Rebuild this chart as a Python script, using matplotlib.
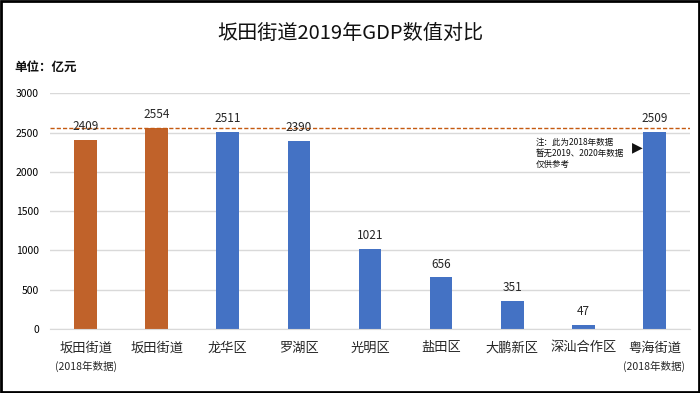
import matplotlib
matplotlib.use("Agg")
import matplotlib.pyplot as plt
from matplotlib.patches import Rectangle

plt.rcParams['font.family'] = ['Noto Sans CJK SC', 'DejaVu Sans']

categories = ["坂田街道", "坂田街道", "龙华区", "罗湖区", "光明区", "盐田区", "大鹏新区", "深汕合作区", "粤海街道"]
sublabels = ["(2018年数据)", "", "", "", "", "", "", "", "(2018年数据)"]
values = [2409, 2554, 2511, 2390, 1021, 656, 351, 47, 2509]
colors = ["#C0622A", "#C0622A", "#4472C4", "#4472C4", "#4472C4", "#4472C4", "#4472C4", "#4472C4", "#4472C4"]
yticks = [0, 500, 1000, 1500, 2000, 2500, 3000]
ref_value = 2554
title = "坂田街道2019年GDP数值对比"
unit = "单位：亿元"
note = "注：此为2018年数据\n暂无2019、2020年数据\n仅供参考"

fig = plt.figure(figsize=(7, 3.93), dpi=100)
ax = fig.add_axes([50/700, 1-329/393, 640/700, (329-93.3)/393])

x = list(range(len(categories)))
ax.bar(x, values, width=0.32, color=colors, zorder=3)
ax.set_xlim(-0.5, len(categories)-0.5)
ax.set_ylim(0, 3000)
ax.set_yticks(yticks)
ax.set_yticklabels([str(t) for t in yticks], fontsize=7.5)
ax.yaxis.grid(True, color="#D9D9D9", linewidth=1, zorder=0)
ax.tick_params(axis='y', length=0, pad=8)
ax.tick_params(axis='x', length=0)
for s in ['top', 'right', 'left']:
    ax.spines[s].set_visible(False)
ax.spines['bottom'].set_color("#D9D9D9")
ax.spines['bottom'].set_zorder(4)

ax.axhline(ref_value, color="#C55A11", linestyle=(0, (3, 1.5)), linewidth=1, zorder=4)

for xi, v in zip(x, values):
    ax.annotate(str(v), (xi, v), xytext=(0, 5), textcoords="offset points",
                ha='center', va='bottom', fontsize=8.5, color="#262626", zorder=5)

ax.set_xticks(x)
ax.set_xticklabels([])
for xi, c, s in zip(x, categories, sublabels):
    ax.annotate(c, (xi, 0), xytext=(0, -9), textcoords="offset points",
                ha='center', va='top', fontsize=9.5, color="#262626", annotation_clip=False)
    if s:
        ax.annotate(s, (xi, 0), xytext=(0, -23), textcoords="offset points",
                    ha='center', va='top', fontsize=7.6, color="#262626", annotation_clip=False)

fig.text(0.5, 1-33/393, title, ha='center', va='center', fontsize=14.5, color="#111111")
fig.text(14/700, 1-67/393, unit, ha='left', va='center', fontsize=9, fontweight='bold', color="#111111")
fig.text(536/700, 1-153/393, note, ha='left', va='center', fontsize=6.1, linespacing=1.3, color="#111111")
fig.text(637/700, 1-147/393, "▶", ha='center', va='center', fontsize=10, color="#111111", family=['DejaVu Sans'])

fig.patches.append(Rectangle((0.0015, 0.0025), 0.997, 0.995, transform=fig.transFigure,
                             fill=False, edgecolor='black', linewidth=2))

fig.savefig("out.png", dpi=100)
